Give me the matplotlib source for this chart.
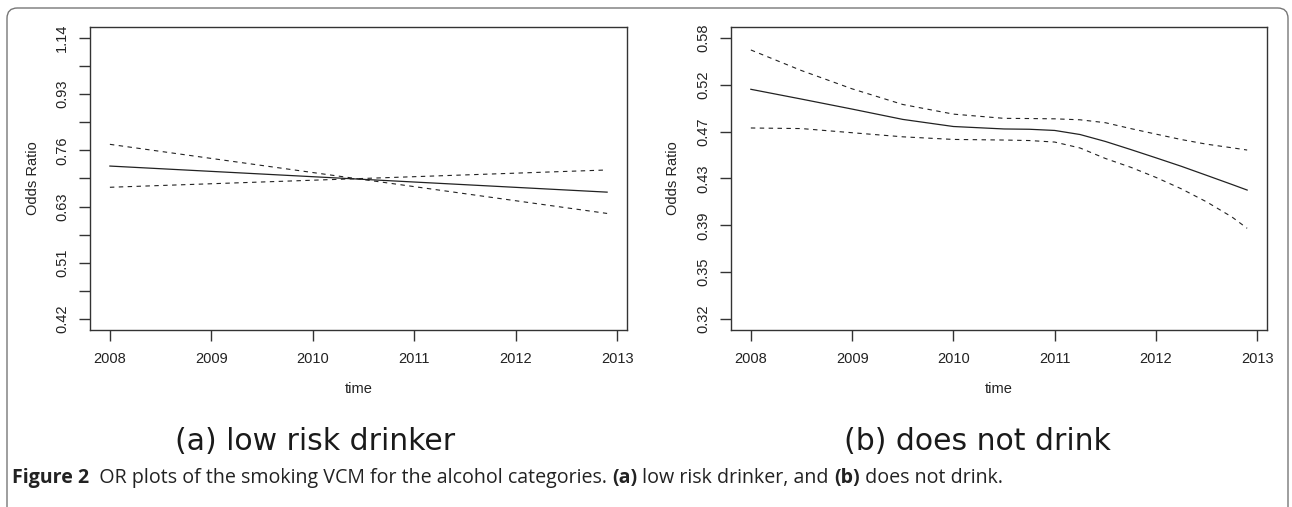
import numpy as np
import matplotlib
matplotlib.use('Agg')
import matplotlib.pyplot as plt
from matplotlib.patches import FancyBboxPatch

# ---- data (odds ratios) ----
# (a) low risk drinker: straight lines on the log scale
time_a = [2008, 2012.9]
or_a = [0.722, 0.658]
ci1_a = [0.780, 0.610]   # upper at start, lower at the end
ci2_a = [0.6695, 0.712]

# (b) does not drink
time_b = [2008, 2008.5, 2009, 2009.5, 2010, 2010.5, 2010.75, 2011, 2011.25,
          2011.5, 2011.75, 2012, 2012.25, 2012.5, 2012.75, 2012.9]
or_b = [0.5171, 0.5064, 0.4957, 0.4849, 0.4776, 0.4751, 0.4748, 0.4736, 0.4695,
        0.4626, 0.4547, 0.4467, 0.4387, 0.4303, 0.4220, 0.4170]
upper_b = [0.5624, 0.5382, 0.5176, 0.5006, 0.4904, 0.4860, 0.4858, 0.4855, 0.4845,
           0.4815, 0.4755, 0.4699, 0.4645, 0.4599, 0.4564, 0.4542]
lower_b = [0.4761, 0.4755, 0.4713, 0.4672, 0.4646, 0.4640, 0.4635, 0.4620, 0.4562,
           0.4461, 0.4378, 0.4284, 0.4181, 0.4066, 0.3937, 0.3843]

# y ticks are on the log-odds scale, labelled with exp()
logticks_a = [-0.87, -0.77, -0.67, -0.57, -0.47, -0.37, -0.27, -0.17, -0.07, 0.03, 0.13]
ylabels_a = ['0.42', '', '0.51', '', '0.63', '', '0.76', '', '0.93', '', '1.14']
logticks_b = [-1.15, -1.05, -0.95, -0.85, -0.75, -0.65, -0.55]
ylabels_b = ['0.32', '0.35', '0.39', '0.43', '0.47', '0.52', '0.58']
xticks = [2008, 2009, 2010, 2011, 2012, 2013]

W, H = 1292, 507
fig = plt.figure(figsize=(W / 100, H / 100), dpi=100)
plt.rcParams['font.family'] = ['Liberation Sans', 'DejaVu Sans']


def box(x0, y0, x1, y1):
    return [x0 / W, 1 - y1 / H, (x1 - x0) / W, (y1 - y0) / H]


ax_a = fig.add_axes(box(90, 27, 627, 330))
ax_b = fig.add_axes(box(731, 27, 1267, 330))

line_col = '#222222'
ax_a.plot(time_a, np.log(or_a), color=line_col, lw=0.9)
ax_a.plot(time_a, np.log(ci1_a), color=line_col, lw=0.8, ls=(0, (4, 4)))
ax_a.plot(time_a, np.log(ci2_a), color=line_col, lw=0.8, ls=(0, (4, 4)))

ax_b.plot(time_b, np.log(or_b), color=line_col, lw=0.9)
ax_b.plot(time_b, np.log(upper_b), color=line_col, lw=0.8, ls=(0, (4, 4)))
ax_b.plot(time_b, np.log(lower_b), color=line_col, lw=0.8, ls=(0, (4, 4)))

ax_a.set_ylim(-0.909, 0.169)
ax_b.set_ylim(-1.1735, -0.5265)

for ax, ticks, labs in [(ax_a, logticks_a, ylabels_a), (ax_b, logticks_b, ylabels_b)]:
    ax.set_xlim(2007.804, 2013.096)
    ax.set_xticks(xticks)
    ax.set_yticks(ticks)
    ax.set_yticklabels(labs)
    ax.tick_params(length=8, width=1, color='#333333', labelsize=10.5,
                   labelcolor='#222222')
    ax.tick_params(axis='x', pad=8)
    ax.tick_params(axis='y', pad=7, labelrotation=90)
    for lab in ax.get_yticklabels():
        lab.set_va('center')
    for s in ax.spines.values():
        s.set_color('#333333')
        s.set_linewidth(1)
    ax.set_xlabel('time', fontsize=10.5, color='#222222')
    ax.xaxis.set_label_coords(0.5, -0.195)
    ax.xaxis.label.set_va('center')
    ax.set_ylabel('Odds Ratio', fontsize=10.5, color='#222222')
    ax.yaxis.label.set_va('center')

ax_a.yaxis.set_label_coords(-0.106, 0.5)
ax_b.yaxis.set_label_coords(-0.109, 0.5)

# sub captions
fig.text(315 / W, 1 - 441 / H, '(a) low risk drinker', fontsize=21.5,
         family='DejaVu Sans', ha='center', va='center', color='#1a1a1a')
fig.text(977 / W, 1 - 441 / H, '(b) does not drink', fontsize=21.5,
         family='DejaVu Sans', ha='center', va='center', color='#1a1a1a')

# figure caption, drawn piece by piece
pieces = [('Figure 2', 'bold'), ('  OR plots of the smoking VCM for the alcohol categories. ', 'normal'),
          ('(a)', 'bold'), (' low risk drinker, and ', 'normal'),
          ('(b)', 'bold'), (' does not drink.', 'normal')]
renderer = fig.canvas.get_renderer()
x = 12
for txt, wt in pieces:
    t = fig.text(x / W, 1 - 478 / H, txt, fontsize=14.1, family='Open Sans',
                 weight=wt, va='center', ha='left', color='#222222')
    bb = t.get_window_extent(renderer)
    x += bb.width

# rounded frame round the figure
frame = FancyBboxPatch((7 / W, -0.1), (1288 - 7) / W, 1 - 8 / H + 0.1,
                       boxstyle='round,pad=0,rounding_size=0.008',
                       transform=fig.transFigure, fill=False,
                       edgecolor='#777777', lw=1, mutation_aspect=W / H)
fig.patches.append(frame)

fig.savefig('out.png', dpi=100)
